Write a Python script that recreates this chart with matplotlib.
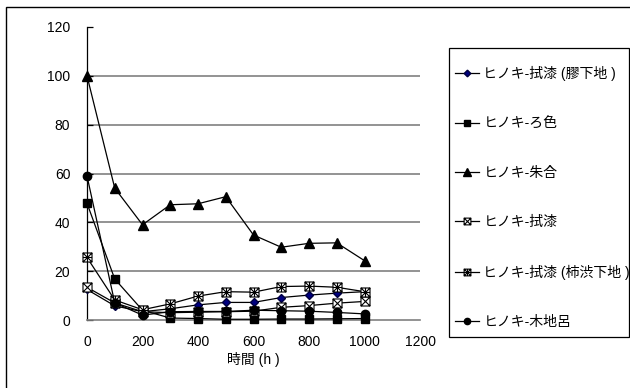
import matplotlib
matplotlib.use("Agg")
import matplotlib.pyplot as plt
from matplotlib.path import Path
from matplotlib.patches import Rectangle

plt.rcParams['font.family'] = ['Liberation Sans', 'Noto Sans CJK JP', 'DejaVu Sans']

hours = [0, 100, 200, 300, 400, 500, 600, 700, 800, 900, 1000]
nikawa = [12.5, 5.8, 3.4, 4.6, 6.2, 7.2, 7.2, 9.2, 10.2, 11.0, 11.6]
roiro = [47.8, 16.8, 4.0, 0.8, 0.6, 0.3, 0.3, 0.4, 0.4, 0.5, 0.6]
shuai = [100, 54, 39, 47.2, 47.6, 50.5, 34.8, 29.8, 31.4, 31.6, 24.3]
fukiurushi = [13.4, 7.0, 3.4, 3.0, 3.2, 3.4, 3.6, 5.2, 5.9, 6.9, 7.6]
kakishibu = [25.6, 8.2, 4.2, 6.6, 9.8, 11.6, 11.4, 13.7, 13.9, 13.4, 11.6]
kijiro = [59, 7.0, 2.0, 3.4, 3.5, 3.5, 4.0, 3.8, 3.6, 3.1, 2.5]

labels = ['ヒノキ-拭漆 (膠下地 )', 'ヒノキ-ろ色', 'ヒノキ-朱合', 'ヒノキ-拭漆',
          'ヒノキ-拭漆 (柿渋下地 )', 'ヒノキ-木地呂']
xticks = [0, 200, 400, 600, 800, 1000, 1200]
yticks = [0, 20, 40, 60, 80, 100, 120]

# custom markers
sq = [(-1, -1), (1, -1), (1, 1), (-1, 1), (-1, -1)]
box_x = Path(sq + [(-1, -1), (1, 1), (-1, 1), (1, -1)],
             [Path.MOVETO, Path.LINETO, Path.LINETO, Path.LINETO, Path.CLOSEPOLY,
              Path.MOVETO, Path.LINETO, Path.MOVETO, Path.LINETO])
box_star = Path(sq + [(-1, -1), (1, 1), (-1, 1), (1, -1), (0, -1), (0, 1), (-1, 0), (1, 0)],
                [Path.MOVETO, Path.LINETO, Path.LINETO, Path.LINETO, Path.CLOSEPOLY,
                 Path.MOVETO, Path.LINETO, Path.MOVETO, Path.LINETO,
                 Path.MOVETO, Path.LINETO, Path.MOVETO, Path.LINETO])

fig = plt.figure(figsize=(6.3, 3.88), dpi=100)
ax = fig.add_axes([87/630, 1-320/388, (420-87)/630, (320-27)/388])

series = [nikawa, roiro, shuai, fukiurushi, kakishibu, kijiro]
styles = [
    dict(marker='D', ms=4.5, mfc='#000080', mec='#000040'),
    dict(marker='s', ms=6, mfc='black', mec='black'),
    dict(marker='^', ms=7, mfc='black', mec='black'),
    dict(marker=box_x, ms=6.5, mfc='white', mec='black', mew=0.8),
    dict(marker=box_star, ms=6.5, mfc='white', mec='black', mew=0.8),
    dict(marker='o', ms=6, mfc='black', mec='black'),
]
for vals, lab, st in zip(series, labels, styles):
    ax.plot(hours, vals, color='black', lw=0.9, label=lab, clip_on=False, zorder=3, **st)

ax.set_xlim(0, 1200)
ax.set_ylim(0, 120)
ax.set_xticks(xticks)
ax.set_yticks(yticks)
for y in yticks[1:-1]:
    ax.axhline(y, color='#808080', lw=1.2, zorder=1)
for s in ['top', 'right']:
    ax.spines[s].set_visible(False)
ax.spines['left'].set_linewidth(0.9)
ax.spines['bottom'].set_linewidth(1.2)
ax.spines['bottom'].set_color('#808080')
ax.tick_params(axis='y', direction='in', length=4, width=0.9, labelsize=10, pad=12)
ax.tick_params(axis='x', length=0, labelsize=10, pad=11)
ax.set_xlabel('時間 (h )', fontsize=10, labelpad=2)

leg = fig.legend(loc='upper left', bbox_to_anchor=(455/630, 1-66/388),
                 frameon=False, fontsize=10, markerscale=0.75,
                 labelspacing=2.55, handlelength=1.7, handletextpad=0.35,
                 borderpad=0, borderaxespad=0)

fig.patches.append(Rectangle((449/630, 1-337/388), (629-449)/630, (337-48)/388,
                             transform=fig.transFigure, fill=False,
                             edgecolor='black', lw=0.9))
fig.patches.append(Rectangle((6/630, -0.1), 1.0, 1.1-7/388, transform=fig.transFigure,
                             fill=False, edgecolor='black', lw=1.0))

fig.savefig('out.png', dpi=100)
